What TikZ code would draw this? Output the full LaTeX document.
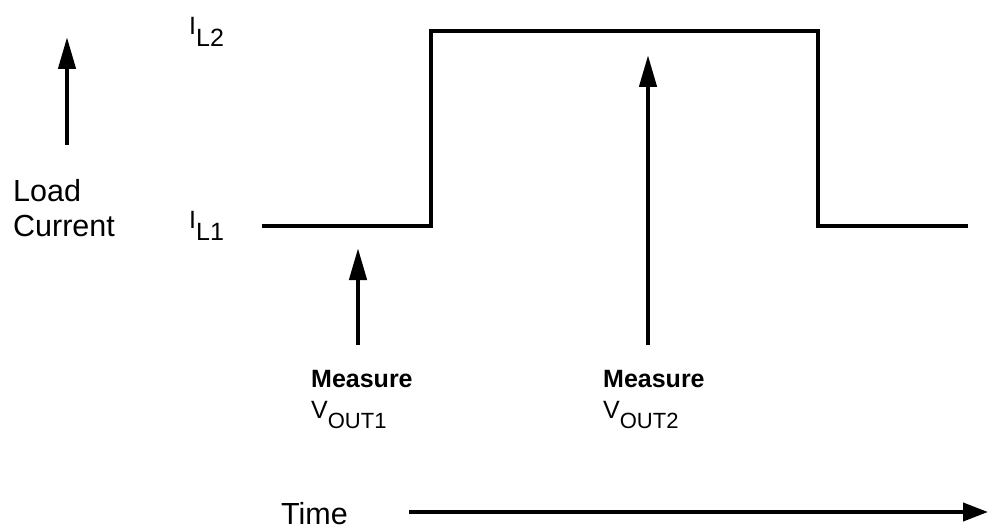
\documentclass[tikz,border=0pt]{standalone}
\usepackage{fontspec}
\setmainfont{Liberation Sans}
\usetikzlibrary{arrows.meta}

\begin{document}
\begin{tikzpicture}[x=1pt, y=-1pt,
    lbl/.style={font=\fontsize{30.5}{35}\selectfont, align=left, inner sep=0pt},
    level/.style={font=\fontsize{25}{25}\selectfont, inner sep=0pt, anchor=west},
    meas/.style={font=\fontsize{25}{31}\selectfont, align=left, inner sep=0pt},
    wave/.style={line width=4pt, line join=miter},
    uparrow/.style={line width=4.5pt, -{Triangle[length=32pt, width=17pt]}},
    tarrow/.style={line width=4pt, -{Triangle[length=25pt, width=18pt]}}
]
\useasboundingbox (0,0) rectangle (989,532);

% axis labels
\node[lbl, anchor=west] at (13,208) (load) {Load\\Current};
\node[level] at (189,32) (il2) {I\raisebox{-0.48em}{L2}};
\node[level] at (189,226) (il1) {I\raisebox{-0.48em}{L1}};

% load current step
\coordinate (w0) at (262,226);
\coordinate (w1) at (431,226);
\coordinate (w2) at (431,31);
\coordinate (w3) at (818,31);
\coordinate (w4) at (818,226);
\coordinate (w5) at (968,226);
\draw[wave] (w0) -- (w1) -- (w2) -- (w3) -- (w4) -- (w5);

% current direction
\coordinate (cbase) at (67,145);
\coordinate (ctip) at (67,37);
\draw[uparrow] (cbase) -- (ctip);

% measurement points
\node[meas, anchor=north west] at (311,370) (m1) {\textbf{Measure}\\V\raisebox{-0.4em}{\fontsize{22}{22}\selectfont OUT1}};
\node[meas, anchor=north west] at (603,370) (m2) {\textbf{Measure}\\V\raisebox{-0.4em}{\fontsize{22}{22}\selectfont OUT2}};
\coordinate (m1tip) at (358,248);
\coordinate (m2tip) at (648,55);
\draw[uparrow] (m1tip |- 0,345) -- (m1tip);
\draw[uparrow] (m2tip |- 0,345) -- (m2tip);

% time axis
\node[lbl, anchor=west] at (281,514) (time) {Time};
\coordinate (tstart) at (409,512);
\coordinate (tend) at (988,512);
\draw[tarrow] (tstart) -- (tend);
\end{tikzpicture}
\end{document}
